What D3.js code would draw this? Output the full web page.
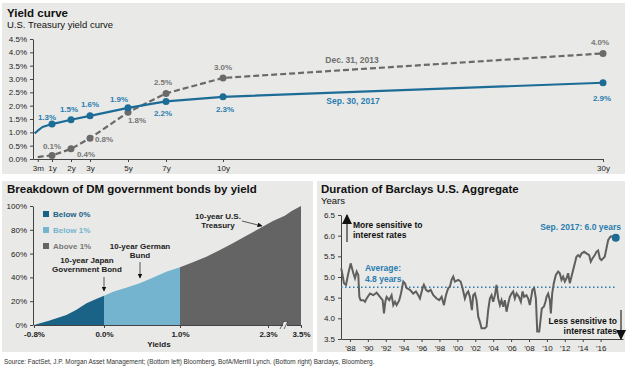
<!DOCTYPE html>
<html>
<head>
<meta charset="utf-8">
<script src="https://cdnjs.cloudflare.com/ajax/libs/d3/7.8.5/d3.min.js"></script>
<style>
  body { margin: 0; background: #fff; }
  svg { display: block; font-family: "Liberation Sans", Arial, sans-serif; }
  .axis path, .axis line { stroke: #444; }
  .axis text { fill: #222; font-size: 8px; }
</style>
</head>
<body>
<svg width="628" height="372"></svg>
<script>
// ---- yield curve data ----
var sepTenors = [1/12, 0.25, 0.5, 1, 2, 3, 5, 7, 10, 30];
var sepYields = [0.96, 1.06, 1.20, 1.31, 1.47, 1.62, 1.92, 2.16, 2.33, 2.86];
var decTenors = [0.25, 0.5, 1, 2, 3, 5, 7, 10, 30];
var decYields = [0.07, 0.10, 0.13, 0.38, 0.78, 1.75, 2.46, 3.04, 3.96];
var markedTenors = [1, 2, 3, 5, 7, 10, 30];
var tenorTicks = [0.25, 1, 2, 3, 5, 7, 10, 30];
var tenorLabels = ["3m", "1y", "2y", "3y", "5y", "7y", "10y", "30y"];

// ---- DM government bonds by yield ----
var bondYields = [-0.8, -0.63, -0.43, -0.32, -0.2, -0.09, 0, 0.12, 0.29, 0.47, 0.64, 0.82, 1.0,
                  1.19, 1.39, 1.59, 1.78, 1.98, 2.18, 2.48, 2.91, 3.16, 3.5];
var bondCumPct = [0, 3.6, 8.4, 12.6, 18.2, 21.8, 24.6, 28, 31.4, 35, 39.8, 44.8, 48.5,
                  52.7, 57.4, 63, 68.6, 75, 81.2, 87.4, 91.9, 95.8, 100];
var yieldTicks = [-0.8, 0, 1, 2.3, 3.5];
var bucketNames = ["Below 0%", "Below 1%", "Above 1%"];
var bucketLo = [-0.8, 0, 1];
var bucketHi = [0, 1, 3.5];

// ---- Barclays US Aggregate duration ----
var durYears = [1987.0, 1987.07, 1987.33, 1987.56, 1987.82, 1988.08, 1988.38, 1988.56, 1988.75, 1988.93,
  1989.05, 1989.19, 1989.49, 1989.68, 1989.86, 1990.24, 1990.61, 1990.98, 1991.35, 1991.65,
  1991.80, 1991.95, 1992.10, 1992.39, 1992.65, 1992.84, 1993.03, 1993.21, 1993.51, 1993.70,
  1993.96, 1994.14, 1994.33, 1994.70, 1995.07, 1995.37, 1995.63, 1995.82, 1996.11, 1996.26,
  1996.49, 1996.75, 1997.01, 1997.31, 1997.68, 1997.97, 1998.24, 1998.50, 1998.72, 1998.98,
  1999.17, 1999.35, 1999.54, 1999.72, 2000.10, 2000.36, 2000.58, 2000.84, 2001.03, 2001.21,
  2001.40, 2001.62, 2001.77, 2001.96, 2002.14, 2002.33, 2002.51, 2002.70, 2003.07, 2003.26,
  2003.44, 2003.63, 2003.82, 2004.00, 2004.19, 2004.37, 2004.56, 2004.75, 2004.93, 2005.12,
  2005.30, 2005.49, 2005.68, 2005.86, 2006.05, 2006.23, 2006.42, 2006.61, 2006.87, 2007.09,
  2007.28, 2007.46, 2007.72, 2007.91, 2008.09, 2008.39, 2008.58, 2008.77, 2008.92, 2009.14,
  2009.29, 2009.43, 2009.66, 2009.84, 2009.96, 2010.14, 2010.33, 2010.44, 2010.59, 2010.77,
  2011.00, 2011.26, 2011.44, 2011.63, 2011.81, 2012.00, 2012.19, 2012.37, 2012.56, 2012.75,
  2012.93, 2013.12, 2013.30, 2013.49, 2013.68, 2013.87, 2014.16, 2014.42, 2014.72, 2014.90,
  2015.09, 2015.35, 2015.53, 2015.72, 2015.91, 2016.10, 2016.28, 2016.46, 2016.65, 2016.85,
  2017.11, 2017.40, 2017.69];
var durValues = [5.21, 5.17, 4.85, 4.81, 5.09, 5.33, 5.09, 4.97, 5.13, 5.05,
  4.52, 4.44, 4.44, 4.40, 4.48, 4.60, 4.56, 4.62, 4.52, 4.44,
  4.12, 4.40, 4.52, 4.44, 4.56, 4.32, 4.40, 4.32, 4.44, 4.60,
  4.89, 4.85, 4.73, 4.69, 4.60, 4.65, 4.56, 4.48, 4.73, 4.81,
  4.69, 4.65, 4.69, 4.56, 4.48, 4.44, 4.52, 4.32, 4.56, 4.73,
  4.77, 4.93, 5.01, 4.89, 4.93, 4.89, 4.73, 4.48, 4.60, 4.65,
  4.52, 4.20, 4.56, 4.60, 4.44, 4.04, 3.92, 3.76, 3.76, 3.80,
  4.20, 4.48, 4.56, 4.40, 4.56, 4.81, 4.48, 4.32, 4.44, 4.28,
  4.44, 4.16, 4.36, 4.52, 4.60, 4.65, 4.48, 4.60, 4.52, 4.40,
  4.65, 4.52, 4.56, 4.48, 4.32, 4.69, 4.73, 4.48, 3.68, 3.68,
  3.96, 4.24, 4.28, 4.40, 4.52, 4.60, 4.44, 4.12, 4.60, 4.85,
  5.05, 5.13, 5.09, 4.93, 5.01, 4.89, 4.97, 5.09, 4.85, 5.01,
  5.17, 5.33, 5.49, 5.53, 5.49, 5.57, 5.61, 5.57, 5.53, 5.37,
  5.45, 5.53, 5.61, 5.64, 5.45, 5.41, 5.45, 5.49, 5.69, 5.90,
  5.98, 5.98, 5.95];
var durAverage = 4.75;
var durYearTicks = [1988, 1990, 1992, 1994, 1996, 1998, 2000, 2002, 2004, 2006, 2008, 2010, 2012, 2014, 2016];

var bg = "#e9e9e7",
    blue = "#1c6c96",
    textBlue = "#2a7db0",
    dashGray = "#6a6a6a",
    bucketColors = ["#1b6287", "#75b4cf", "#646464"];

var svg = d3.select("svg");

svg.append("rect").attr("x", 2).attr("y", 3).attr("width", 623).attr("height", 171).attr("fill", bg);
svg.append("rect").attr("x", 2).attr("y", 181).attr("width", 311).attr("height", 171).attr("fill", bg);
svg.append("rect").attr("x", 317).attr("y", 181).attr("width", 308).attr("height", 171).attr("fill", bg);

svg.append("defs").append("marker")
    .attr("id", "head")
    .attr("viewBox", "0 0 10 10")
    .attr("refX", 9).attr("refY", 5)
    .attr("markerWidth", 5).attr("markerHeight", 5)
    .attr("orient", "auto")
  .append("path")
    .attr("d", "M0,0L10,5L0,10Z")
    .attr("fill", "#111");

function title(x, y, s) {
  svg.append("text").attr("x", x).attr("y", y)
    .attr("font-size", 11.5).attr("font-weight", "bold").attr("fill", "#111").text(s);
}
function label(x, y, s, color, anchor, size) {
  return svg.append("text").attr("x", x).attr("y", y)
    .attr("font-size", size || 8).attr("font-weight", "bold")
    .attr("fill", color).attr("text-anchor", anchor || "middle").text(s);
}

/* ================= Yield curve ================= */
title(7, 17, "Yield curve");
svg.append("text").attr("x", 7).attr("y", 28).attr("font-size", 9.5).attr("fill", "#111")
  .text("U.S. Treasury yield curve");

var xc = d3.scaleLinear().domain([0, 30]).range([33, 603]),
    yc = d3.scaleLinear().domain([0, 4.5]).range([159, 39]);

svg.append("g").attr("class", "axis").attr("transform", "translate(33,0)")
  .call(d3.axisLeft(yc).ticks(9).tickFormat(function(d) { return d.toFixed(1) + "%"; })
    .tickSize(3).tickSizeOuter(0).tickPadding(3));
svg.append("g").attr("class", "axis").attr("transform", "translate(0,159)")
  .call(d3.axisBottom(xc).tickValues(tenorTicks)
    .tickFormat(function(d, i) { return tenorLabels[i]; })
    .tickSize(3).tickSizeOuter(0).tickPadding(3));

var yline = d3.line().x(function(d) { return xc(d[0]); }).y(function(d) { return yc(d[1]); });

var decPts = d3.zip(decTenors, decYields),
    sepPts = d3.zip(sepTenors, sepYields);

svg.append("path").datum(decPts)
  .attr("d", yline)
  .attr("fill", "none").attr("stroke", dashGray).attr("stroke-width", 2.2)
  .attr("stroke-dasharray", "6,3");
svg.append("path").datum(sepPts)
  .attr("d", yline)
  .attr("fill", "none").attr("stroke", blue).attr("stroke-width", 2.2)
  .attr("stroke-linejoin", "round");

var decMarked = decPts.filter(function(d) { return markedTenors.indexOf(d[0]) >= 0; }),
    sepMarked = sepPts.filter(function(d) { return markedTenors.indexOf(d[0]) >= 0; });

// label offsets (dx, baseline dy) for each marked point
var decOffsets = [[0, -7], [15, 8], [14, 4], [9, 11], [-3, -8], [0, -8], [-3, -8]];
var sepOffsets = [[-5, -4], [-2, -8], [0, -9], [-9, -6], [-3, 15], [2, 15], [-1, 18]];

svg.selectAll(".decdot").data(decMarked).enter().append("circle")
  .attr("cx", function(d) { return xc(d[0]); }).attr("cy", function(d) { return yc(d[1]); })
  .attr("r", 3.5).attr("fill", dashGray);
svg.selectAll(".sepdot").data(sepMarked).enter().append("circle")
  .attr("cx", function(d) { return xc(d[0]); }).attr("cy", function(d) { return yc(d[1]); })
  .attr("r", 3.5).attr("fill", blue);

decMarked.forEach(function(d, i) {
  label(xc(d[0]) + decOffsets[i][0], yc(d[1]) + decOffsets[i][1], d[1].toFixed(1) + "%", "#777");
});
sepMarked.forEach(function(d, i) {
  label(xc(d[0]) + sepOffsets[i][0], yc(d[1]) + sepOffsets[i][1], d[1].toFixed(1) + "%", textBlue);
});

label(352, 63, "Dec. 31, 2013", "#6f6f6f", "middle", 8.5);
label(353, 104, "Sep. 30, 2017", textBlue, "middle", 8.5);

/* ================= DM bonds by yield ================= */
title(7, 193, "Breakdown of DM government bonds by yield");

var xb = d3.scaleLinear().domain(yieldTicks).range([34, 104, 180, 268, 301]),
    yb = d3.scaleLinear().domain([0, 100]).range([325, 206]);

var bondPts = d3.zip(bondYields, bondCumPct);
var area = d3.area()
    .x(function(d) { return xb(d[0]); })
    .y0(yb(0))
    .y1(function(d) { return yb(d[1]); });

bucketNames.forEach(function(name, i) {
  var pts = bondPts.filter(function(d) { return d[0] >= bucketLo[i] && d[0] <= bucketHi[i]; });
  svg.append("path").datum(pts).attr("d", area).attr("fill", bucketColors[i]);
  svg.append("rect").attr("x", 43).attr("y", 211 + i * 16).attr("width", 6).attr("height", 6)
    .attr("fill", bucketColors[i]);
  svg.append("text").attr("x", 53).attr("y", 217 + i * 16).attr("font-size", 8)
    .attr("font-weight", "bold").attr("fill", i == 2 ? "#777" : bucketColors[i]).text(name);
});

svg.append("g").attr("class", "axis").attr("transform", "translate(33,0)")
  .call(d3.axisLeft(yb).tickValues([0, 20, 40, 60, 80, 100])
    .tickFormat(function(d) { return d + "%"; })
    .tickSize(3).tickSizeOuter(0).tickPadding(3));
svg.append("g").attr("class", "axis").attr("transform", "translate(0,325)")
  .call(d3.axisBottom(xb).tickValues(yieldTicks)
    .tickFormat(function(d) { return d.toFixed(1) + "%"; })
    .tickSize(3).tickSizeOuter(0).tickPadding(3))
  .selectAll("text").attr("font-weight", "bold");

// axis break
svg.append("rect").attr("x", 283).attr("y", 322).attr("width", 4).attr("height", 6).attr("fill", bg);
[282, 286].forEach(function(x) {
  svg.append("line").attr("x1", x - 2).attr("y1", 329).attr("x2", x + 2).attr("y2", 321)
    .attr("stroke", "#444").attr("stroke-width", 0.8);
});

label(159, 347, "Yields", "#222");

label(87, 263, "10-year Japan", "#222");
label(87, 272, "Government Bond", "#222");
label(140, 249, "10-year German", "#222");
label(140, 258, "Bund", "#222");
label(218, 219, "10-year U.S.", "#222");
label(218, 228, "Treasury", "#222");

function arrow(x1, y1, x2, y2, color, width) {
  svg.append("line").attr("x1", x1).attr("y1", y1).attr("x2", x2).attr("y2", y2)
    .attr("stroke", color).attr("stroke-width", width).attr("marker-end", "url(#head)");
}
arrow(104, 277, 104, 291, "#555", 1);
arrow(140, 262, 140, 278, "#555", 1);
arrow(242, 221, 262, 226, "#555", 1);

/* ================= Duration ================= */
title(321, 193, "Duration of Barclays U.S. Aggregate");
svg.append("text").attr("x", 321).attr("y", 204).attr("font-size", 9.5).attr("fill", "#111").text("Years");

var xd = d3.scaleLinear().domain([1987, 2018.5]).range([341, 623]),
    yd = d3.scaleLinear().domain([3.5, 6.5]).range([339, 215]);

svg.append("g").attr("class", "axis").attr("transform", "translate(341,0)")
  .call(d3.axisLeft(yd).ticks(6).tickFormat(d3.format(".1f"))
    .tickSize(3).tickSizeOuter(0).tickPadding(3));
svg.append("g").attr("class", "axis").attr("transform", "translate(0,339)")
  .call(d3.axisBottom(xd).tickValues(durYearTicks)
    .tickFormat(function(d) { return "'" + String(d).slice(2); })
    .tickSize(3).tickSizeOuter(0).tickPadding(3));

svg.append("line")
  .attr("x1", xd(1987)).attr("x2", xd(2017.75))
  .attr("y1", yd(durAverage)).attr("y2", yd(durAverage))
  .attr("stroke", textBlue).attr("stroke-width", 1.5).attr("stroke-dasharray", "1.5,2.5");

var durPts = d3.zip(durYears, durValues);
svg.append("path").datum(durPts)
  .attr("d", d3.line().x(function(d) { return xd(d[0]); }).y(function(d) { return yd(d[1]); }))
  .attr("fill", "none").attr("stroke", "#5f5f5f").attr("stroke-width", 2);

var last = durPts[durPts.length - 1];
svg.append("circle").attr("cx", xd(last[0])).attr("cy", yd(last[1])).attr("r", 4).attr("fill", blue);

label(621, 230, "Sep. 2017: " + last[1].toFixed(1) + " years", textBlue, "end", 8.5);
label(365, 271, "Average:", textBlue, "start", 8.5);
label(365, 282, durAverage.toFixed(1) + " years", textBlue, "start", 8.5);

label(353, 228, "More sensitive to", "#111", "start", 8.5);
label(353, 238, "interest rates", "#111", "start", 8.5);
label(617, 324, "Less sensitive to", "#111", "end", 8.5);
label(617, 334, "interest rates", "#111", "end", 8.5);

arrow(347, 242, 347, 215, "#777", 2);
arrow(621, 310, 621, 339, "#777", 2);

/* ================= Source ================= */
svg.append("text").attr("x", 4).attr("y", 364).attr("font-size", 6.4).attr("fill", "#333")
  .text("Source: FactSet, J.P. Morgan Asset Management; (Bottom left) Bloomberg, BofA/Merrill Lynch. (Bottom right) Barclays, Bloomberg.");
</script>
</body>
</html>
